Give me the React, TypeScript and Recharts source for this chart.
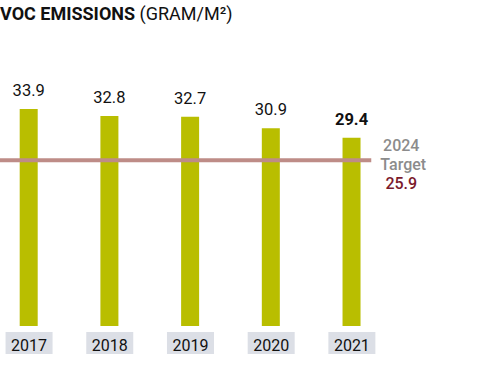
import React from 'react';
import { BarChart, Bar, XAxis, YAxis, ReferenceLine, LabelList } from 'recharts';

const years = [2017, 2018, 2019, 2020, 2021];
const vocValues = [33.9, 32.8, 32.7, 30.9, 29.4];
const targetYear = '2024';
const targetValue = 25.9;

const data = years.map((year, i) => ({ year, voc: vocValues[i] }));

const X_DOMAIN: [number, number] = [2016.64, 2022.86];
const LINE_END = 2021.24;
const FONT = 'Roboto, sans-serif';

const YearTick = (props: any) => {
  const { x, y, payload } = props;
  return (
    <g>
      <rect x={x - 23.5} y={y + 6} width={47} height={22} fill="#dcdfe6" />
      <text x={x} y={y + 25} textAnchor="middle" fontSize={16} fill="#111" fontFamily={FONT}>
        {payload.value}
      </text>
    </g>
  );
};

const ValueLabel = (props: any) => {
  const { x, y, width, value, index } = props;
  const isLast = index === vocValues.length - 1;
  return (
    <text
      x={x + width / 2}
      y={y - 13}
      textAnchor="middle"
      fontSize={16.5}
      fontWeight={isLast ? 700 : 400}
      fill="#111"
      fontFamily={FONT}
    >
      {value}
    </text>
  );
};

const TargetLabel = (props: any) => {
  const { viewBox } = props;
  const cx = viewBox.x + viewBox.width + 30;
  const cy = viewBox.y;
  return (
    <g fontFamily={FONT} fontSize={16} fontWeight={500} textAnchor="middle">
      <text x={cx} y={cy - 9} fill="#8c8c8c">{targetYear}</text>
      <text x={cx + 2} y={cy + 10} fill="#8c8c8c">Target</text>
      <text x={cx} y={cy + 29} fill="#7b1a2c">{targetValue}</text>
    </g>
  );
};

export default function App() {
  return (
    <div style={{ position: 'absolute', left: 0, top: 0, width: 502, height: 378, background: '#fff' }}>
      <div
        style={{
          position: 'absolute',
          left: 0,
          top: 3,
          fontFamily: 'Roboto, sans-serif',
          fontSize: 18,
          color: '#111',
          whiteSpace: 'nowrap',
        }}
      >
        <span style={{ fontWeight: 700 }}>VOC EMISSIONS</span> (GRAM/M²)
      </div>
      <BarChart width={502} height={378} data={data} margin={{ top: 70, right: 0, left: 0, bottom: 0 }}>
        <XAxis
          dataKey="year"
          type="number"
          domain={X_DOMAIN}
          ticks={years}
          axisLine={false}
          tickLine={false}
          tickSize={0}
          tickMargin={0}
          height={52}
          tick={<YearTick />}
          interval={0}
        />
        <YAxis hide domain={[0, 40]} />
        <Bar dataKey="voc" fill="#b9be00" barSize={18} isAnimationActive={false}>
          <LabelList dataKey="voc" content={<ValueLabel />} />
        </Bar>
        <ReferenceLine
          segment={[
            { x: X_DOMAIN[0], y: targetValue },
            { x: LINE_END, y: targetValue },
          ]}
          stroke="#be8c87"
          strokeWidth={4}
          label={<TargetLabel />}
        />
      </BarChart>
    </div>
  );
}
